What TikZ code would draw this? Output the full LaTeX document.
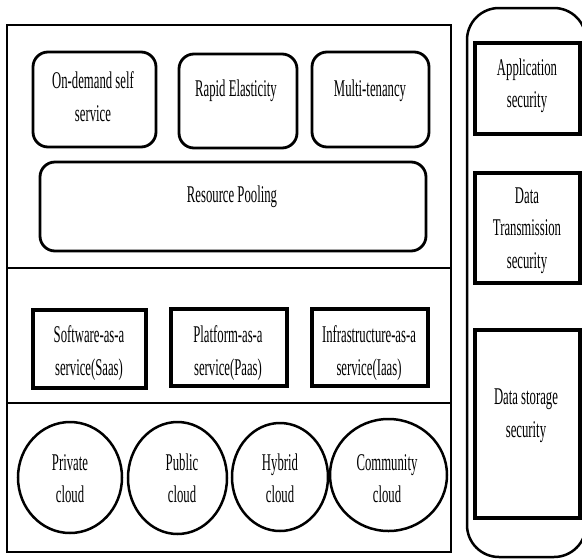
\documentclass[tikz,border=0pt]{standalone}
\usepackage{fontspec}
\newfontfamily\tnr[FakeStretch=0.53]{Liberation Serif}
\begin{document}
\begin{tikzpicture}[x=1pt,y=-1pt,
  txt/.style={font=\tnr\fontsize{24}{33}\selectfont, inner sep=0pt, anchor=base},
  rbox/.style={draw, line width=2.8pt, rounded corners=15pt},
  sbox/.style={draw, line width=3.2pt},
  cl/.style={draw, line width=2.5pt}]
\useasboundingbox (0,0) rectangle (582,558);
\clip (0,0) rectangle (582,558);
% left frame
\draw[line width=1.4pt] (7,25) rectangle (451,552);
\draw[line width=1.1pt] (7,268) -- (451,268);
\draw[line width=1.1pt] (7,403) -- (451,403);
% top characteristics
\draw[rbox] (33,52) rectangle (156,147);
\node[txt] (od1) at (93,88) {On-demand self};
\node[txt] (od2) at (93,121) {service};
\draw[rbox] (179,54) rectangle (297,148);
\node[txt] (re) at (236,96) {Rapid Elasticity};
\draw[rbox] (312,52) rectangle (429,147);
\node[txt] (mt) at (370,96) {Multi-tenancy};
\draw[rbox] (40,162) rectangle (426,251);
\node[txt] (rp) at (232,202) {Resource Pooling};
% service models
\draw[sbox] (33,310) rectangle (146,388);
\node[txt] (sa1) at (89,342) {Software-as-a};
\node[txt] (sa2) at (89,375) {service(Saas)};
\draw[sbox] (171,309) rectangle (287,386);
\node[txt] (pa1) at (228,342) {Platform-as-a};
\node[txt] (pa2) at (228,375) {service(Paas)};
\draw[sbox] (312,309) rectangle (428,386);
\node[txt] (ia1) at (369,342) {Infrastructure-as-a};
\node[txt] (ia2) at (369,375) {service(Iaas)};
% deployment models
\draw[cl] (70,477.5) ellipse [x radius=52, y radius=55.5];
\node[txt] (pr1) at (70,470) {Private};
\node[txt] (pr2) at (70,502) {cloud};
\draw[cl] (177.5,478) ellipse [x radius=49.5, y radius=56];
\node[txt] (pu1) at (182,470) {Public};
\node[txt] (pu2) at (182,502) {cloud};
\draw[cl] (280,477) ellipse [x radius=48, y radius=54];
\node[txt] (hy1) at (280,470) {Hybrid};
\node[txt] (hy2) at (280,502) {cloud};
\draw[cl] (388.5,475) ellipse [x radius=58.5, y radius=56];
\node[txt] (co1) at (387,470) {Community};
\node[txt] (co2) at (387,502) {cloud};
% security column
\draw[line width=2.5pt, rounded corners=32pt] (467,8) rectangle (586,557);
\draw[sbox] (475,43) rectangle (580,134);
\node[txt] (ap1) at (527,75) {Application};
\node[txt] (ap2) at (527,107) {security};
\draw[sbox] (475,173) rectangle (580,283);
\node[txt] (dt1) at (527,203) {Data};
\node[txt] (dt2) at (527,235) {Transmission};
\node[txt] (dt3) at (527,268) {security};
\draw[sbox] (475,330) rectangle (580,518);
\node[txt] (ds1) at (526,404) {Data storage};
\node[txt] (ds2) at (526,437) {security};
\end{tikzpicture}
\end{document}
